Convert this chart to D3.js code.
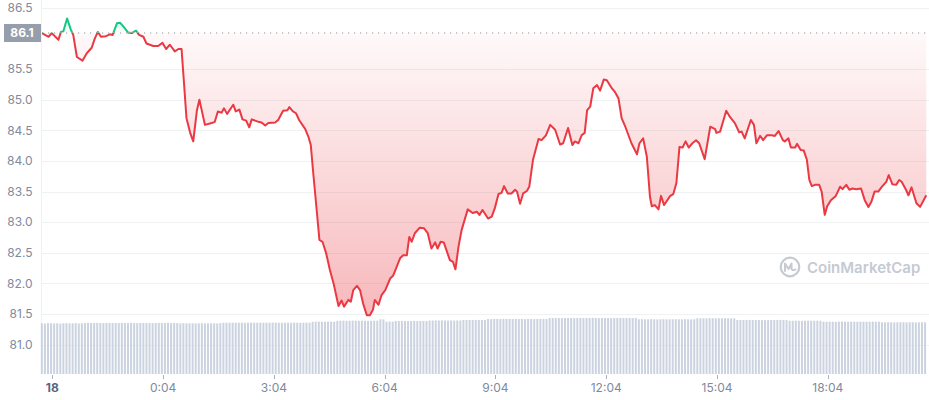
<!DOCTYPE html>
<html><head><meta charset="utf-8">
<script src="https://cdn.jsdelivr.net/npm/d3@7"></script>
<style>body{margin:0;background:#fff;} svg{display:block;font-family:Inter,"Noto Sans",sans-serif;}</style>
</head><body><svg id="c" width="929" height="400"></svg>
<script>
// price series: minutes after the "18" tick, and price (USD)
const times = [
-17,-6,-1,10,14,18,24,30,34,40,
49,56,64,69,74,79,87,94,98,105,
110,116,123,129,136,141,148,153,164,172,
179,185,191,199,205,210,214,218,224,229,
235,239,248,259,264,269,275,279,284,294,
298,304,309,315,320,324,335,340,346,351,
362,367,375,382,385,391,396,401,411,416,
420,424,430,434,439,445,451,457,465,470,
474,481,485,489,495,500,505,511,516,521,
524,530,535,541,549,554,565,570,576,580,
584,589,597,604,610,616,622,626,631,636,
646,651,655,660,665,675,683,690,694,699,
708,714,719,725,730,734,740,746,752,755,
760,765,771,775,781,790,795,802,809,817,
825,830,838,845,849,855,860,865,869,874,
879,885,890,896,901,909,914,920,925,931,
941,950,954,960,966,971,974,979,985,989,
994,1004,1009,1014,1019,1024,1029,1034,1040,1046,
1051,1060,1069,1077,1079,1085,1095,1101,1109,1116,
1120,1125,1135,1140,1144,1150,1155,1161,1169,1174,
1180,1187,1190,1196,1200,1207,1210,1216,1221,1226,
1230,1234,1239,1246,1250,1255,1259,1265,1273,1280,
1284,1290,1295,1300,1306,1314,1320,1326,1331,1336,
1342,1348,1355,1359,1365,1371,1376,1380,1387,1391,
1396,1404,1410,1420];
const prices = [
86.09,86.03,86.09,85.98,86.11,86.12,86.33,86.15,86.06,85.70,
85.64,85.76,85.85,86.00,86.11,86.03,86.04,86.07,86.06,86.25,
86.26,86.19,86.10,86.09,86.13,86.06,86.03,85.92,85.88,85.88,
85.93,85.83,85.90,85.79,85.83,85.83,85.27,84.70,84.46,84.32,
84.83,85.00,84.59,84.62,84.64,84.81,84.79,84.86,84.77,84.92,
84.81,84.84,84.68,84.66,84.55,84.68,84.64,84.63,84.58,84.62,
84.63,84.67,84.82,84.83,84.88,84.81,84.78,84.67,84.52,84.40,
84.26,83.80,83.15,82.71,82.68,82.49,82.22,82.00,81.63,81.72,
81.62,81.73,81.70,81.89,81.96,81.89,81.67,81.48,81.48,81.57,
81.73,81.65,81.81,81.89,82.08,82.13,82.41,82.46,82.46,82.76,
82.68,82.82,82.91,82.90,82.82,82.57,82.67,82.57,82.68,82.67,
82.38,82.35,82.23,82.60,82.87,83.21,83.15,83.17,83.12,83.20,
83.06,83.09,83.23,83.46,83.48,83.59,83.47,83.47,83.53,83.50,
83.30,83.47,83.51,83.58,84.02,84.36,84.34,84.42,84.59,84.51,
84.27,84.29,84.54,84.26,84.32,84.29,84.42,84.46,84.83,84.89,
85.19,85.24,85.15,85.33,85.32,85.19,85.13,85.02,84.70,84.56,
84.29,84.11,84.29,84.37,84.07,83.42,83.26,83.28,83.21,83.43,
83.28,83.43,83.46,83.64,84.23,84.22,84.32,84.22,84.29,84.34,
84.29,84.03,84.56,84.52,84.46,84.48,84.82,84.72,84.62,84.47,
84.48,84.37,84.67,84.59,84.29,84.41,84.34,84.42,84.42,84.41,
84.49,84.34,84.32,84.37,84.22,84.22,84.28,84.18,84.17,84.02,
83.69,83.59,83.61,83.61,83.50,83.12,83.26,83.36,83.43,83.58,
83.54,83.61,83.53,83.55,83.54,83.55,83.36,83.25,83.34,83.50,
83.50,83.58,83.66,83.77,83.62,83.61,83.69,83.66,83.53,83.44,
83.57,83.31,83.25,83.44];
const openPrice = 86.1;

// volume bars: one every 5 minutes starting at volStart (relative units)
const volStart = -17, volStep = 5;
const volumes = [
88.9,88.5,89.2,88.9,88.6,89.0,88.4,88.9,89.1,88.7,88.9,89.2,88.6,88.9,
89.3,89.6,89.5,89.4,89.7,89.5,89.2,89.5,89.6,89.4,89.5,89.3,89.6,89.5,89.4,89.7,89.5,89.3,89.5,89.6,89.4,89.5,89.2,89.5,89.6,89.4,89.5,89.7,89.3,89.5,89.4,
88.9,89.1,88.8,88.9,89.0,88.7,88.9,89.1,88.8,88.9,89.0,88.9,88.8,89.1,
90.1,89.9,90.0,90.2,89.8,90.0,90.1,89.9,90.0,90.2,90.0,89.9,90.1,90.0,89.8,90.0,90.2,90.1,89.9,90.0,90.0,90.1,89.9,90.2,90.0,89.8,90.0,90.1,90.0,
91.6,91.8,91.9,91.7,91.8,92.0,91.8,91.7,
93.3,93.5,93.6,93.4,93.5,93.7,93.5,93.4,93.6,93.5,93.3,93.5,93.6,93.5,
96.0,95.8,
91.8,92.0,91.7,
93.0,92.9,93.1,93.0,92.8,93.0,93.2,93.0,92.9,93.1,93.0,
93.9,93.8,94.0,93.9,94.1,93.9,93.8,94.0,93.9,94.0,93.9,
94.7,94.6,94.8,94.7,94.9,94.7,94.6,94.8,
96.5,96.4,96.6,96.5,96.3,96.5,96.7,96.5,96.4,96.6,96.5,96.5,96.3,96.6,96.5,96.4,96.7,96.5,96.6,96.5,
98.2,98.1,98.3,98.2,98.0,98.2,98.4,98.2,98.1,98.3,98.2,98.0,98.2,98.3,98.5,98.2,98.1,98.2,98.3,98.2,98.0,98.2,98.1,98.3,98.2,98.1,98.2,98.0,98.2,
96.0,96.1,95.9,96.0,96.2,96.0,95.8,96.0,96.1,96.0,95.9,96.0,96.1,96.0,95.9,96.1,96.0,95.8,96.0,
97.7,97.6,97.8,97.7,97.9,97.7,97.6,97.8,97.7,97.9,97.7,97.6,97.7,
94.7,94.8,94.6,94.7,94.9,94.7,94.6,94.8,94.7,94.5,94.7,94.8,94.6,94.7,94.9,94.7,94.6,
93.5,93.4,93.6,93.5,93.3,93.5,93.7,93.5,93.4,93.6,93.5,
91.8,91.7,91.9,91.8,91.6,91.8,92.0,91.8,91.7,91.9,91.8,91.6,91.8,91.9,91.7,91.8,92.0,91.8,91.7,
90.7,90.6,90.8,90.7,90.5,90.7,90.9,90.7,90.6,90.8,90.7,90.5,90.7,90.8,90.6];

const yTicks = [86.5,85.5,85.0,84.5,84.0,83.5,83.0,82.5,82.0,81.5,81.0];
const xTickValues = [0,180,360,540,720,900,1080,1260];
const xTickLabels = ["18","0:04","3:04","6:04","9:04","12:04","15:04","18:04"];

const svg = d3.select("#c");
const L = 42, R = 929, B = 374;
const x = d3.scaleLinear().domain([0,1260]).range([52.3, 827.8]);
const y = d3.scaleLinear().domain([81,86.5]).range([344.6,8]);
const yVol = d3.scaleLinear().domain([0,100]).range([B,317]);
const yOpen = y(openPrice);

const defs = svg.append("defs");
const rg = defs.append("linearGradient").attr("id","redGrad").attr("gradientUnits","userSpaceOnUse")
  .attr("x1",0).attr("x2",0).attr("y1",yOpen).attr("y2",y(81.45));
rg.append("stop").attr("offset",0).attr("stop-color","#ea3943").attr("stop-opacity",0.03);
rg.append("stop").attr("offset",1).attr("stop-color","#ea3943").attr("stop-opacity",0.36);
const gg = defs.append("linearGradient").attr("id","greenGrad").attr("gradientUnits","userSpaceOnUse")
  .attr("x1",0).attr("x2",0).attr("y1",y(86.35)).attr("y2",yOpen);
gg.append("stop").attr("offset",0).attr("stop-color","#16c784").attr("stop-opacity",0.2);
gg.append("stop").attr("offset",1).attr("stop-color","#16c784").attr("stop-opacity",0.02);
defs.append("clipPath").attr("id","above").append("rect").attr("x",L).attr("y",0).attr("width",R-L).attr("height",yOpen);
defs.append("clipPath").attr("id","below").append("rect").attr("x",L).attr("y",yOpen).attr("width",R-L).attr("height",400-yOpen);

// grid
svg.append("g").selectAll("line").data(yTicks).join("line")
  .attr("x1",L).attr("x2",R).attr("y1",d=>Math.round(y(d))+0.5).attr("y2",d=>Math.round(y(d))+0.5)
  .attr("stroke","#eff2f5").attr("stroke-width",1);
svg.append("line").attr("x1",41.5).attr("x2",41.5).attr("y1",0).attr("y2",B).attr("stroke","#eff2f5");

// volume bars
svg.append("g").selectAll("rect").data(volumes).join("rect")
  .attr("x",(d,i)=>x(volStart+i*volStep)-1).attr("width",2)
  .attr("y",d=>yVol(d)).attr("height",d=>B-yVol(d)).attr("fill","#ccd3e0");

const pts = times.map((t,i)=>[t,prices[i]]);
const area = d3.area().x(d=>x(d[0])).y0(yOpen).y1(d=>y(d[1]));
const line = d3.line().x(d=>x(d[0])).y(d=>y(d[1]));

svg.append("path").datum(pts).attr("d",area).attr("fill","url(#redGrad)").attr("clip-path","url(#below)");
svg.append("path").datum(pts).attr("d",area).attr("fill","url(#greenGrad)").attr("clip-path","url(#above)");

// open price dotted line
svg.append("line").attr("x1",L).attr("x2",R).attr("y1",yOpen+0.5).attr("y2",yOpen+0.5)
  .attr("stroke","#8f96a3").attr("stroke-width",1.2).attr("stroke-dasharray","1.2,4.8");

svg.append("path").datum(pts).attr("d",line).attr("fill","none").attr("stroke","#ea3943")
  .attr("stroke-width",2).attr("stroke-linejoin","round").attr("clip-path","url(#below)");
svg.append("path").datum(pts).attr("d",line).attr("fill","none").attr("stroke","#16c784")
  .attr("stroke-width",2).attr("stroke-linejoin","round").attr("clip-path","url(#above)");

// y labels
svg.append("g").selectAll("text").data(yTicks).join("text")
  .attr("x",32.5).attr("y",d=>y(d)).attr("dy","0.35em").attr("text-anchor","end")
  .attr("font-size",12).attr("fill","#808a9d").text(d=>d.toFixed(1));

// open price label
svg.append("rect").attr("x",4).attr("y",yOpen-8.5).attr("width",37).attr("height",18).attr("fill","#979eab");
svg.append("text").attr("x",22).attr("y",yOpen+0.5).attr("dy","0.35em").attr("text-anchor","middle")
  .attr("font-size",12).attr("font-weight",700).attr("fill","#fff").text(openPrice.toFixed(1));

// x axis
const xg = svg.append("g");
xg.selectAll("line").data(xTickValues).join("line")
  .attr("x1",d=>Math.round(x(d))+0.5).attr("x2",d=>Math.round(x(d))+0.5).attr("y1",375).attr("y2",379)
  .attr("stroke","#a6b0c3");
xg.selectAll("text").data(xTickValues).join("text")
  .attr("x",d=>x(d)).attr("y",392).attr("text-anchor","middle").attr("font-size",12)
  .attr("font-weight",(d,i)=>i===0?700:400).attr("fill",(d,i)=>i===0?"#58667e":"#808a9d")
  .text((d,i)=>xTickLabels[i]);

// watermark
const wm = svg.append("g").attr("transform","translate(790,267)");
wm.append("circle").attr("r",9.3).attr("fill","none").attr("stroke","#c5cad3").attr("stroke-width",2.2);
wm.append("path").attr("d","M-5,4 L-5,-3.5 L-1.5,2 L1.5,-3.5 L1.5,2 Q3,4 5.5,2.5")
  .attr("fill","none").attr("stroke","#c5cad3").attr("stroke-width",2).attr("stroke-linejoin","round").attr("stroke-linecap","round");
svg.append("text").attr("x",807).attr("y",272.5).attr("font-size",15).attr("font-weight",600)
  .attr("fill","#c5cad3").text("CoinMarketCap");
</script></body></html>
